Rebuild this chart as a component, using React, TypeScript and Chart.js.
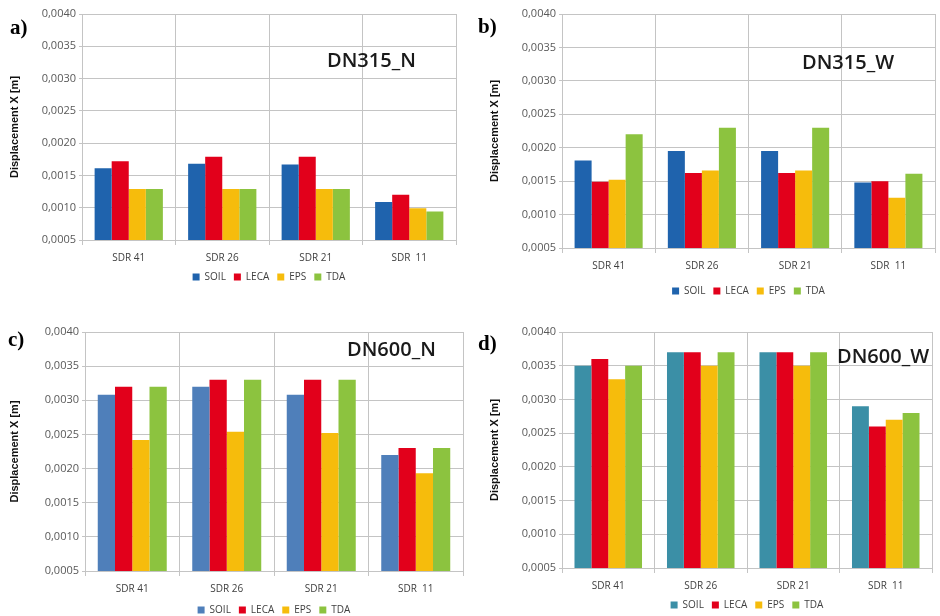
import React, { useEffect, useRef } from "react";
import { Chart, registerables } from "chart.js";

Chart.register(...registerables);

const categories = ["SDR 41", "SDR 26", "SDR 21", "SDR  11"];
const seriesNames = ["SOIL", "LECA", "EPS", "TDA"];
const yTicksMin = 0.0005;
const yTicksMax = 0.004;
const yTickStep = 0.0005;

// a) DN315_N
const aSoil = [0.00161, 0.00168, 0.00167, 0.00109];
const aLeca = [0.00172, 0.00179, 0.00179, 0.0012];
const aEps = [0.00129, 0.00129, 0.00129, 0.00099];
const aTda = [0.00129, 0.00129, 0.00129, 0.00094];

// b) DN315_W
const bSoil = [0.00181, 0.00195, 0.00195, 0.00148];
const bLeca = [0.00149, 0.00162, 0.00162, 0.0015];
const bEps = [0.00152, 0.00166, 0.00166, 0.00125];
const bTda = [0.0022, 0.0023, 0.0023, 0.00161];

// c) DN600_N
const cSoil = [0.00308, 0.0032, 0.00308, 0.0022];
const cLeca = [0.0032, 0.0033, 0.0033, 0.0023];
const cEps = [0.00242, 0.00254, 0.00252, 0.00193];
const cTda = [0.0032, 0.0033, 0.0033, 0.0023];

// d) DN600_W
const dSoil = [0.0035, 0.0037, 0.0037, 0.0029];
const dLeca = [0.0036, 0.0037, 0.0037, 0.0026];
const dEps = [0.0033, 0.0035, 0.0035, 0.0027];
const dTda = [0.0035, 0.0037, 0.0037, 0.0028];

const LECA_COLOR = "#e2001b";
const EPS_COLOR = "#f6bc0c";
const TDA_COLOR = "#8cc33f";
const GRID = "#c4c4c4";
const LEGEND_H = 28;
const FONT = "'Open Sans', 'Liberation Sans', sans-serif";

type Spec = {
  letter: string;
  name: string;
  left: number;
  top: number;
  w: number;
  h: number;
  area: { l: number; t: number; r: number; b: number };
  xh: number;
  titlePad: number;
  soilColor: string;
  series: number[][];
  letterPos: { x: number; y: number };
  namePos: { x: number; y: number };
};

const specs: Spec[] = [
  {
    letter: "a)", name: "DN315_N", left: 0, top: 0, w: 470, h: 300,
    area: { l: 82, t: 14, r: 456, b: 240 }, xh: 24, titlePad: 9,
    soilColor: "#1f63ad", series: [aSoil, aLeca, aEps, aTda],
    letterPos: { x: 10, y: 27 }, namePos: { x: 327, y: 60 },
  },
  {
    letter: "b)", name: "DN315_W", left: 470, top: 0, w: 470, h: 306,
    area: { l: 92, t: 14, r: 465, b: 248 }, xh: 30, titlePad: 19,
    soilColor: "#1f63ad", series: [bSoil, bLeca, bEps, bTda],
    letterPos: { x: 478, y: 26 }, namePos: { x: 802, y: 62 },
  },
  {
    letter: "c)", name: "DN600_N", left: 0, top: 306, w: 470, h: 320,
    area: { l: 85, t: 26, r: 463, b: 265 }, xh: 26, titlePad: 9,
    soilColor: "#4f7fba", series: [cSoil, cLeca, cEps, cTda],
    letterPos: { x: 8, y: 339 }, namePos: { x: 347, y: 349 },
  },
  {
    letter: "d)", name: "DN600_W", left: 470, top: 306, w: 470, h: 320,
    area: { l: 92, t: 26, r: 462, b: 262 }, xh: 24, titlePad: 19,
    soilColor: "#3b8fa6", series: [dSoil, dLeca, dEps, dTda],
    letterPos: { x: 478, y: 343 }, namePos: { x: 837, y: 356 },
  },
];

function Panel({ spec }: { spec: Spec }) {
  const ref = useRef<HTMLCanvasElement | null>(null);
  useEffect(() => {
    if (!ref.current) return;
    const colors = [spec.soilColor, LECA_COLOR, EPS_COLOR, TDA_COLOR];
    const chart = new Chart(ref.current, {
      type: "bar",
      data: {
        labels: categories,
        datasets: seriesNames.map((n, i) => ({
          label: n,
          data: spec.series[i],
          backgroundColor: colors[i],
          borderWidth: 0,
          categoryPercentage: 0.73,
          barPercentage: 1.0,
        })),
      },
      options: {
        animation: false,
        responsive: false,
        maintainAspectRatio: false,
        layout: {
          padding: {
            left: 0,
            top: spec.area.t,
            right: spec.w - spec.area.r,
            bottom: spec.h - (spec.area.b + spec.xh + LEGEND_H),
          },
        },
        plugins: {
          tooltip: { enabled: false },
          legend: {
            position: "bottom",
            fullSize: false,
            labels: {
              boxWidth: 7,
              boxHeight: 7,
              padding: 8,
              color: "#404040",
              font: { family: FONT, size: 10 },
            },
          },
        },
        scales: {
          x: {
            offset: true,
            grid: { display: true, offset: true, color: GRID, tickLength: 5, drawTicks: true },
            border: { color: GRID, width: 1 },
            ticks: { color: "#404040", font: { family: FONT, size: 10 }, padding: 7, autoSkip: false, maxRotation: 0 },
            afterFit: (s: any) => { s.height = spec.xh; },
          },
          y: {
            min: yTicksMin,
            max: yTicksMax,
            grid: { color: GRID, tickLength: 3 },
            border: { color: GRID, width: 1 },
            ticks: {
              stepSize: yTickStep,
              color: "#595959",
              padding: 3,
              font: { family: FONT, size: 11 },
              callback: (v: any) => Number(v).toFixed(4).replace(".", ","),
            },
            title: {
              display: true,
              text: "Displacement X [m]",
              color: "#111",
              font: { family: "'Liberation Sans', sans-serif", size: 11, weight: "bold" },
              padding: { top: spec.titlePad - 1, bottom: 0 },
            },
            afterFit: (s: any) => { s.width = spec.area.l; },
          },
        },
      },
    } as any);
    return () => chart.destroy();
  }, [spec]);
  return (
    <canvas
      ref={ref}
      width={spec.w}
      height={spec.h}
      style={{ position: "absolute", left: spec.left, top: spec.top, width: spec.w, height: spec.h }}
    />
  );
}

export default function App() {
  return (
    <div style={{ position: "fixed", left: 0, top: 0, width: 940, height: 616, overflow: "hidden", background: "#fff" }}>
      {specs.map((s) => (
        <Panel key={s.name} spec={s} />
      ))}
      {specs.map((s) => (
        <div
          key={s.letter}
          style={{
            position: "absolute", left: s.letterPos.x, top: s.letterPos.y, transform: "translateY(-50%)",
            fontFamily: "'Liberation Serif', serif", fontWeight: "bold", fontSize: 21, lineHeight: 1, color: "#000",
          }}
        >
          {s.letter}
        </div>
      ))}
      {specs.map((s) => (
        <div
          key={s.name + "_t"}
          style={{
            position: "absolute", left: s.namePos.x, top: s.namePos.y, transform: "translateY(-50%)",
            fontFamily: FONT, fontSize: 20, fontWeight: 600, lineHeight: 1, color: "#1a1a1a", whiteSpace: "nowrap",
          }}
        >
          {s.name}
        </div>
      ))}
    </div>
  );
}
